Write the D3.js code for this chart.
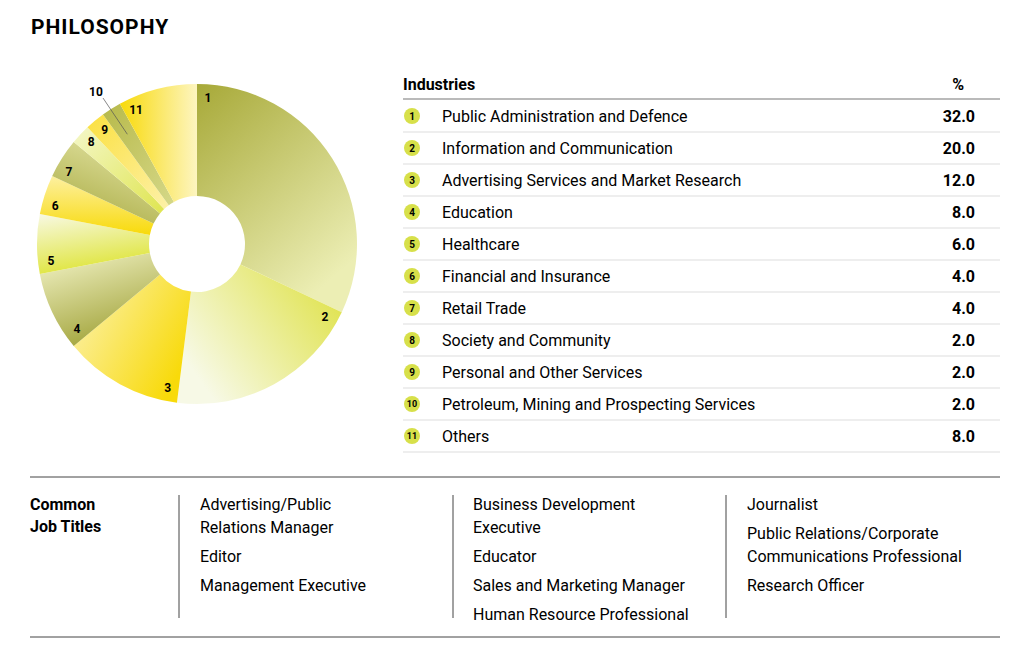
<!DOCTYPE html>
<html><head><meta charset="utf-8">
<script src="https://cdn.jsdelivr.net/npm/d3@7"></script>
<style>body{margin:0;background:#fff;font-family:Roboto,"Open Sans",sans-serif;color:#231f20}</style>
</head><body>
<div id="chart"></div>
<script>
const width = 1030, height = 652;
const industries = ['Public Administration and Defence','Information and Communication','Advertising Services and Market Research','Education','Healthcare','Financial and Insurance','Retail Trade','Society and Community','Personal and Other Services','Petroleum, Mining and Prospecting Services','Others'];
const values = [32.0, 20.0, 12.0, 8.0, 6.0, 4.0, 4.0, 2.0, 2.0, 2.0, 8.0];
// gradient stops per slice [from, to]
const sliceColors = [['#a7a938','#eceeb4'],['#dde03c','#f7f9e6'],['#fcf3b8','#f8da0a'],['#ecedbc','#9c9e30'],['#f8f9e4','#dfe53c'],['#fdf0a0','#f8da0a'],['#dcdd98','#a5a73c'],['#f4f7c8','#dfe550'],['#fbe040','#fdf1a8'],['#b7b94a','#d5d888'],['#f8da0a','#fdf5c0']];
const gradDirs = [[0,0,0.6,1],[1,0,0,0.6],[0,0,1,0.6],[0.3,0,0.7,1],[0,0,0.3,1],[0,0,0,1],[0.5,0,0,1],[0,0,1,1],[0,0,1,1],[0,0,1,1],[0,0.5,1,0.5]];
const jobCols = [
  [['Advertising/Public','Relations Manager'],['Editor'],['Management Executive']],
  [['Business Development','Executive'],['Educator'],['Sales and Marketing Manager'],['Human Resource Professional']],
  [['Journalist'],['Public Relations/Corporate','Communications Professional'],['Research Officer']]
];

const svg = d3.select('#chart').append('svg').attr('width', width).attr('height', height);
svg.append('text').attr('x', 31).attr('y', 34).text('PHILOSOPHY')
  .attr('font-size', 21).attr('font-weight', 'bold').attr('letter-spacing', 1);

// pie
const cx = 197, cy = 244, R = 160, r0 = 48;
const defs = svg.append('defs');
sliceColors.forEach((c, i) => {
  const g = defs.append('linearGradient').attr('id', 'g' + i)
    .attr('x1', gradDirs[i][0]).attr('y1', gradDirs[i][1]).attr('x2', gradDirs[i][2]).attr('y2', gradDirs[i][3]);
  g.append('stop').attr('offset', 0).attr('stop-color', c[0]);
  g.append('stop').attr('offset', 1).attr('stop-color', c[1]);
});
const pie = d3.pie().sort(null).value(d => d);
const arcs = pie(values);
const arc = d3.arc().innerRadius(r0).outerRadius(R);
const pg = svg.append('g').attr('transform', `translate(${cx},${cy})`);
pg.selectAll('path').data(arcs).join('path').attr('d', arc).attr('fill', (d, i) => `url(#g${i})`);
const ang = d => d.startAngle + 0.075;
pg.selectAll('text.lab').data(arcs.filter(d => d.index !== 9)).join('text').attr('class', 'lab')
  .attr('x', d => 147 * Math.sin(ang(d)))
  .attr('y', d => -147 * Math.cos(ang(d)))
  .attr('text-anchor', 'middle').attr('dy', '0.35em')
  .attr('font-size', 12).attr('font-weight', 'bold').text(d => d.index + 1);
// label 10 with leader
const a10 = (arcs[9].startAngle + arcs[9].endAngle) / 2;
pg.append('line').attr('x1', 130 * Math.sin(a10)).attr('y1', -130 * Math.cos(a10))
  .attr('x2', -94).attr('y2', -146).attr('stroke', '#555').attr('stroke-width', 0.7);
pg.append('text').attr('x', -101).attr('y', -148).attr('text-anchor', 'middle')
  .attr('font-size', 12).attr('font-weight', 'bold').text('10');

// table
const tx = 403, tr = 1000, rowH = 32, y0 = 116;
const ty = d3.scaleLinear().domain([0, 1]).range([y0, y0 + rowH]);
svg.append('text').attr('x', tx).attr('y', 90).text('Industries').attr('font-size', 16).attr('font-weight', 'bold');
svg.append('text').attr('x', 964).attr('y', 90).text('%').attr('font-size', 16).attr('font-weight', 'bold').attr('text-anchor', 'end');
svg.append('line').attr('x1', tx).attr('x2', tr).attr('y1', 99).attr('y2', 99).attr('stroke', '#777').attr('stroke-width', 1.2);
const rows = svg.selectAll('g.row').data(industries).join('g').attr('class', 'row')
  .attr('transform', (d, i) => `translate(0,${ty(i)})`);
rows.append('circle').attr('cx', 412).attr('cy', 0).attr('r', 8).attr('fill', '#d7e04a');
rows.append('text').attr('x', 412).attr('dy', '0.35em').attr('text-anchor', 'middle')
  .attr('font-size', (d, i) => i > 8 ? 9 : 10).attr('font-weight', 'bold').text((d, i) => i + 1);
rows.append('text').attr('x', 442).attr('dy', '0.35em').attr('font-size', 16).text(d => d);
rows.append('text').attr('x', 975).attr('dy', '0.35em').attr('text-anchor', 'end')
  .attr('font-size', 16).attr('font-weight', 'bold').text((d, i) => values[i].toFixed(1));
rows.append('line').attr('x1', tx).attr('x2', tr).attr('y1', 16).attr('y2', 16).attr('stroke', '#ddd');

// job titles
svg.append('line').attr('x1', 30).attr('x2', 1000).attr('y1', 477).attr('y2', 477).attr('stroke', '#444');
svg.append('line').attr('x1', 30).attr('x2', 1000).attr('y1', 637).attr('y2', 637).attr('stroke', '#444');
svg.append('text').attr('x', 30).attr('y', 510).attr('font-size', 16).attr('font-weight', 'bold').text('Common');
svg.append('text').attr('x', 30).attr('y', 532).attr('font-size', 16).attr('font-weight', 'bold').text('Job Titles');
const colX = [200, 473, 747], sepX = [179, 453, 726];
sepX.forEach(x => svg.append('line').attr('x1', x).attr('x2', x).attr('y1', 495).attr('y2', 618).attr('stroke', '#444'));
jobCols.forEach((col, c) => {
  let y = 510;
  col.forEach(item => {
    item.forEach(line => {
      svg.append('text').attr('x', colX[c]).attr('y', y).attr('font-size', 16).text(line);
      y += 22.5;
    });
    y += 6.5;
  });
});
</script>
</body></html>
